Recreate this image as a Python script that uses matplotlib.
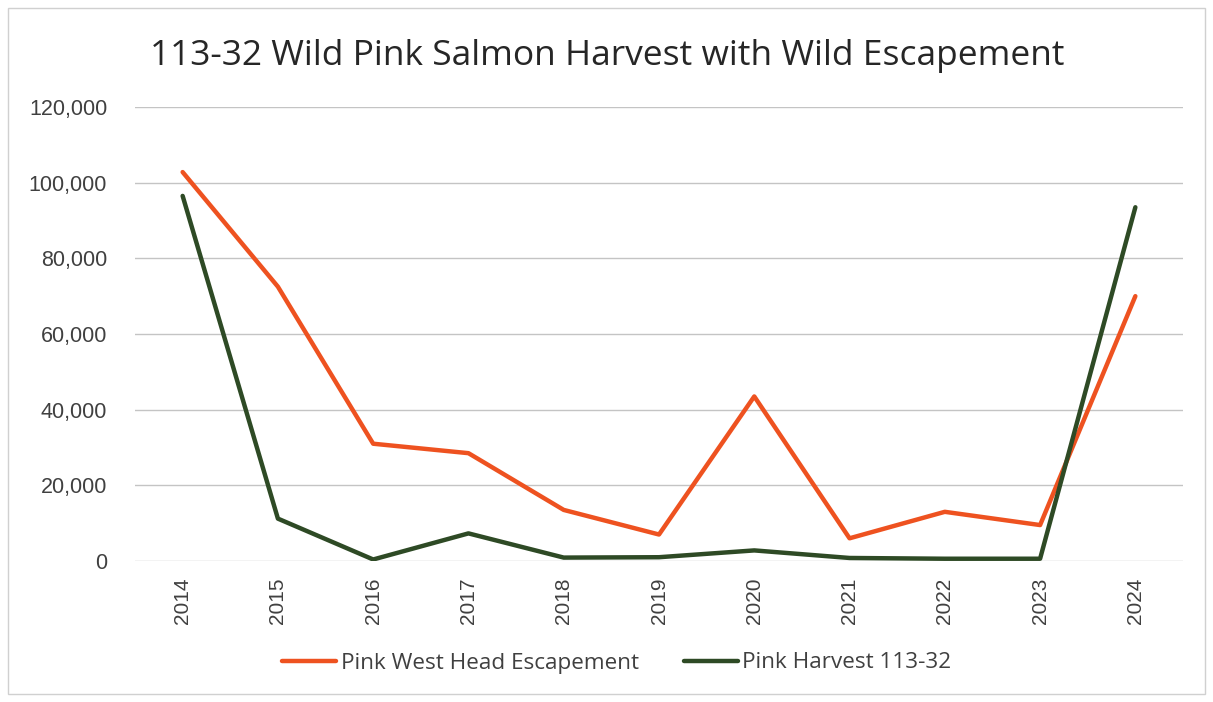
import matplotlib
matplotlib.use("Agg")
import matplotlib.pyplot as plt
from matplotlib.patches import Rectangle

years = ["2014", "2015", "2016", "2017", "2018", "2019",
         "2020", "2021", "2022", "2023", "2024"]
escapement = [102800, 72500, 31000, 28500, 13500, 7000,
              43500, 6000, 13000, 9500, 70000]
harvest = [96500, 11200, 400, 7300, 900, 1000,
           2800, 800, 600, 600, 93500]
y_ticks = [0, 20000, 40000, 60000, 80000, 100000, 120000]

plt.rcParams['font.family'] = ['Liberation Sans', 'DejaVu Sans']

fig = plt.figure(figsize=(12.13, 7.02), dpi=100)
ax = fig.add_axes([135 / 1213, 1 - 561 / 702, (1183 - 135) / 1213, (561 - 107) / 702])

x = range(len(years))
ax.plot(x, escapement, color='#EE5220', lw=3.2, solid_capstyle='round',
        label='Pink West Head Escapement', zorder=3)
ax.plot(x, harvest, color='#2E4A25', lw=3.2, solid_capstyle='round',
        label='Pink Harvest 113-32', zorder=3)

ax.set_xlim(-0.5, len(years) - 0.5)
ax.set_ylim(0, 120000)
ax.set_yticks(y_ticks)
ax.set_yticklabels([f"{v:,}" for v in y_ticks])
ax.set_xticks(list(x))
ax.set_xticklabels(years, rotation=90)
ax.tick_params(axis='y', length=0, pad=20, labelsize=15.5, labelcolor='#404040')
ax.tick_params(axis='x', length=0, pad=12, labelsize=15, labelcolor='#404040')
ax.grid(axis='y', color='#C4C4C4', lw=1)
ax.set_axisbelow(True)
for s in ax.spines.values():
    s.set_visible(False)

fig.text(607 / 1213, 1 - 65 / 702, '113-32 Wild Pink Salmon Harvest with Wild Escapement',
         ha='center', va='baseline', fontsize=25.5, color='#262626',
         family=['Open Sans', 'Liberation Sans'])

fig.legend(loc='center', bbox_to_anchor=(617 / 1213, 1 - 663 / 702), ncol=2,
           frameon=False, prop={'family': ['Open Sans', 'Liberation Sans'], 'size': 16.2},
           handlelength=2.4, handletextpad=0.2, columnspacing=2.0,
           labelcolor='#404040')

# thin chart-area border
fig.patches.append(Rectangle((8 / 1213, 8 / 702), 1 - 16 / 1213, 1 - 16 / 702,
                             transform=fig.transFigure, fill=False,
                             edgecolor='#D0D0D0', lw=1))

fig.savefig('out.png', dpi=100)
